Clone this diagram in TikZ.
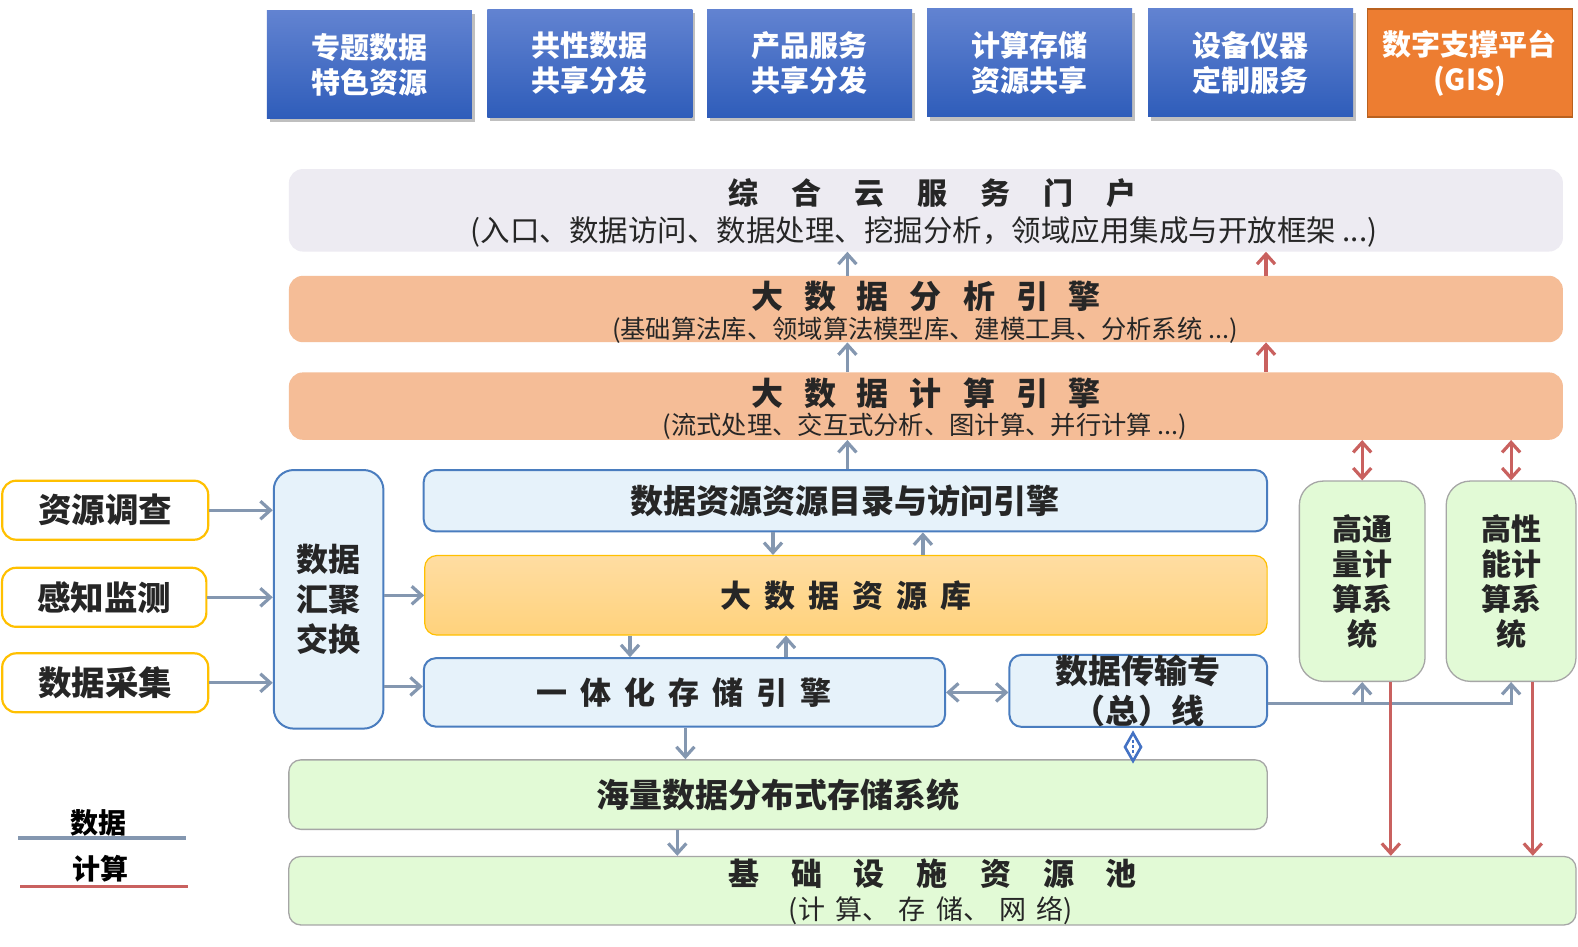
\documentclass[tikz,border=0pt]{standalone}
\usepackage{fontspec}
\setmainfont{Noto Sans CJK SC}
\usetikzlibrary{arrows.meta,shadows}
\definecolor{txt}{HTML}{262626}
\definecolor{tbTop}{HTML}{6283D1}
\definecolor{tbBot}{HTML}{2F5DBA}
\definecolor{orC}{HTML}{ED7D31}
\definecolor{orD}{HTML}{B9611F}
\definecolor{portalC}{HTML}{EDEBF2}
\definecolor{engC}{HTML}{F5BD97}
\definecolor{lbC}{HTML}{E6F2FA}
\definecolor{lbD}{HTML}{4A7DBF}
\definecolor{kbTop}{HTML}{FFDDA2}
\definecolor{kbBot}{HTML}{FFD27C}
\definecolor{kbD}{HTML}{FFC000}
\definecolor{gC}{HTML}{E2FAD6}
\definecolor{gD}{HTML}{A6A6A6}
\definecolor{yD}{HTML}{FFC000}
\definecolor{dataC}{HTML}{8497B0}
\definecolor{compC}{HTML}{C9615F}
\definecolor{dmC}{HTML}{4472C4}
\tikzset{
  topbox/.style={rectangle, inner sep=0pt, top color=tbTop, bottom color=tbBot, draw=none,
    text=white, font=\bfseries\fontsize{29}{35}\selectfont, align=center,
    drop shadow={shadow xshift=3pt,shadow yshift=-4pt,fill=black,opacity=0.25},
    minimum width=205pt, minimum height=108pt},
  gisbox/.style={rectangle, inner sep=0pt, fill=orC, draw=orD, line width=1.5pt,
    text=white, font=\bfseries\fontsize{29}{35}\selectfont, align=center,
    minimum width=205pt, minimum height=108pt},
  portalbox/.style={rectangle, rounded corners=14pt, fill=portalC, draw=none, inner sep=0pt},
  engbox/.style={rectangle, rounded corners=14pt, fill=engC, draw=none, inner sep=0pt},
  lbbox/.style={rectangle, rounded corners=12pt, fill=lbC, draw=lbD, line width=2pt, inner sep=0pt,
    text=txt, font=\bfseries\fontsize{33}{40}\selectfont, align=center},
  kbbox/.style={rectangle, rounded corners=12pt, top color=kbTop, bottom color=kbBot, draw=kbD,
    line width=1.2pt, inner sep=0pt, text=txt, font=\bfseries\fontsize{31}{38}\selectfont},
  gbox/.style={rectangle, rounded corners=12pt, fill=gC, draw=gD, line width=1.3pt, inner sep=0pt,
    text=txt, font=\bfseries\fontsize{33}{38}\selectfont, align=center},
  ybox/.style={rectangle, rounded corners=14pt, fill=white, draw=yD, line width=2.2pt, inner sep=0pt,
    text=txt, font=\bfseries\fontsize{33.5}{38}\selectfont, minimum width=206pt, minimum height=59pt},
  ttl/.style={inner sep=0pt, text=txt, font=\bfseries\fontsize{31}{36}\selectfont},
  subt/.style={inner sep=0pt, text=txt, font=\fontsize{25.3}{30}\selectfont},
  tip/.tip={Straight Barb[length=10pt,width=18pt]},
  darr/.style={draw=dataC, line width=3.2pt, -tip},
  darr2/.style={draw=dataC, line width=3.2pt, tip-tip},
  carr/.style={draw=compC, line width=3.2pt, -tip},
  carr2/.style={draw=compC, line width=3.2pt, tip-tip},
}
\begin{document}
\begin{tikzpicture}[x=1pt,y=-1pt]
\useasboundingbox (0,0) rectangle (1578,946);
\fill[white] (0,0) rectangle (1578,946);

% top row
\node[topbox] (t1) at (369.4,64.4) {专题数据\\特色资源};
\node[topbox] (t2) at (589.8,63) {共性数据\\共享分发};
\node[topbox] (t3) at (809.6,63) {产品服务\\共享分发};
\node[topbox] (t4) at (1029.5,62.5) {计算存储\\资源共享};
\node[topbox] (t5) at (1250.5,62.5) {设备仪器\\定制服务};
\node[gisbox] (t6) at (1469.8,63) {数字支撑平台\\(GIS)};

% portal
\node[portalbox, minimum width=1274pt, minimum height=82.5pt] (portal) at (925.9,210.3) {};
\node[ttl, font=\bfseries\fontsize{30}{36}\selectfont] (portalT) at (932,193) {综\hspace{33pt}合\hspace{33pt}云\hspace{33pt}服\hspace{33pt}务\hspace{33pt}门\hspace{33pt}户};
\node[subt, font=\fontsize{29.5}{34}\selectfont] (portalS) at (924,231.5) {(入口、数据访问、数据处理、挖掘分析，领域应用集成与开放框架 ...)};

% analysis engine
\node[engbox, minimum width=1274pt, minimum height=66.4pt] (an) at (925.9,309) {};
\node[ttl, font=\bfseries\fontsize{32}{36}\selectfont] (anT) at (926,296) {大\hspace{21pt}数\hspace{21pt}据\hspace{21pt}分\hspace{21pt}析\hspace{21pt}引\hspace{21pt}擎};
\node[subt] (anS) at (925,330) {(基础算法库、领域算法模型库、建模工具、分析系统 ...)};

% compute engine
\node[engbox, minimum width=1274pt, minimum height=67.4pt] (cp) at (925.9,406.1) {};
\node[ttl, font=\bfseries\fontsize{32}{36}\selectfont] (cpT) at (926,393.5) {大\hspace{21pt}数\hspace{21pt}据\hspace{21pt}计\hspace{21pt}算\hspace{21pt}引\hspace{21pt}擎};
\node[subt] (cpS) at (925,426.7) {(流式处理、交互式分析、图计算、并行计算 ...)};

% middle blocks
\node[lbbox, minimum width=843.4pt, minimum height=61.4pt] (ml) at (845.4,500.7) {数据资源资源目录与访问引擎};
\node[kbbox, minimum width=842.4pt, minimum height=79.5pt] (kb) at (845.9,595.3) {大\hspace{13pt}数\hspace{13pt}据\hspace{13pt}资\hspace{13pt}源\hspace{13pt}库};
\node[lbbox, minimum width=521.3pt, minimum height=68.4pt, font=\bfseries\fontsize{31}{38}\selectfont] (yt) at (684.4,692.4) {一\hspace{13pt}体\hspace{13pt}化\hspace{13pt}存\hspace{13pt}储\hspace{13pt}引\hspace{13pt}擎};
\node[lbbox, minimum width=257.7pt, minimum height=71.4pt] (cs) at (1138.3,690.9) {数据传输专\\（总）线};
\node[gbox, minimum width=978.3pt, minimum height=69.5pt] (hl) at (778,794.6) {海量数据分布式存储系统};
\node[gbox, minimum width=1287.2pt, minimum height=68.5pt] (jc) at (932.4,890.7) {};
\node[ttl] (jcT) at (932.5,873.5) {基\hspace{32pt}础\hspace{32pt}设\hspace{32pt}施\hspace{32pt}资\hspace{32pt}源\hspace{32pt}池};
\node[subt, font=\fontsize{27}{32}\selectfont] (jcS) at (931,910.8) {(计\hspace{10pt}算、\hspace{10pt}存\hspace{10pt}储、\hspace{10pt}网\hspace{10pt}络)};

% right systems
\node[gbox, rounded corners=24pt, minimum width=125.7pt, minimum height=200.3pt, font=\bfseries\fontsize{30}{35}\selectfont] (hq) at (1362.2,581.2) {高通\\量计\\算系\\统};
\node[gbox, rounded corners=24pt, minimum width=129.8pt, minimum height=200.3pt, font=\bfseries\fontsize{30}{35}\selectfont] (hp) at (1511.1,581.2) {高性\\能计\\算系\\统};

% left
\node[lbbox, rounded corners=20pt, minimum width=109.7pt, minimum height=258.6pt, font=\bfseries\fontsize{32}{40}\selectfont] (hj) at (328.6,599.3) {数据\\汇聚\\交换};
\node[ybox] (y1) at (105.2,510.2) {资源调查};
\node[ybox, minimum width=204.3pt] (y2) at (104.2,597.3) {感知监测};
\node[ybox] (y3) at (105.2,682.8) {数据采集};

% coordinates for connector columns
\coordinate (bx) at (847.4,0);
\coordinate (rx) at (1266,0);
\coordinate (mx1) at (773,0);
\coordinate (mx2) at (922.9,0);
\coordinate (mx3) at (630,0);
\coordinate (mx4) at (786,0);
\coordinate (mx5) at (685.4,0);
\coordinate (mx6) at (677.3,0);
\coordinate (rdx1) at (1390.8,0);
\coordinate (rdx2) at (1532.8,0);
\coordinate (busy) at (0,703.5);
\coordinate (hjy2) at (0,686.4);

% blue data arrows up
\draw[darr] (an.north -| bx) -- (portal.south -| bx);
\draw[darr] (cp.north -| bx) -- (an.south -| bx);
\draw[darr] (ml.north -| bx) -- (cp.south -| bx);
% red compute arrows up
\draw[carr] (an.north -| rx) -- (portal.south -| rx);
\draw[carr] (cp.north -| rx) -- (an.south -| rx);
% red double arrows
\draw[carr2] (cp.south -| hq.north) -- (hq.north);
\draw[carr2] (cp.south -| hp.north) -- (hp.north);

% left inputs
\draw[darr] (y1.east) -- (y1.east -| hj.west);
\draw[darr] (y2.east) -- (y2.east -| hj.west);
\draw[darr] (y3.east) -- (y3.east -| hj.west);
\draw[darr] (hj.east |- kb.west) -- (kb.west);
\draw[darr] (hj.east |- hjy2) -- (yt.west |- hjy2);

% between middle blocks
\draw[darr] (ml.south -| mx1) -- (kb.north -| mx1);
\draw[darr] (kb.north -| mx2) -- (ml.south -| mx2);
\draw[darr] (kb.south -| mx3) -- (yt.north -| mx3);
\draw[darr] (yt.north -| mx4) -- (kb.south -| mx4);
\draw[darr2] (yt.east) -- (cs.west |- yt.east);
\draw[darr] (yt.south -| mx5) -- (hl.north -| mx5);
\draw[darr] (hl.south -| mx6) -- (jc.north -| mx6);

% bus to compute systems
\draw[darr] (cs.east |- busy) -| (hp.south);
\draw[darr] (hq.south |- busy) -- (hq.south);

% compute down to infrastructure
\draw[carr] (hq.south -| rdx1) -- (jc.north -| rdx1);
\draw[carr] (hp.south -| rdx2) -- (jc.north -| rdx2);

% diamond connector between cs and hl
\coordinate (dmt) at (1133,733);
\coordinate (dmb) at (1133,761);
\draw[dmC, line width=2.6pt, line join=miter] (dmt) -- (1141,747) -- (dmb) -- (1125,747) -- cycle;
\draw[dmC, line width=2.6pt, dash pattern=on 2.5pt off 2.5pt] (1133,740) -- (1133,755);

% legend
\node[inner sep=0pt, font=\bfseries\fontsize{28}{32}\selectfont, text=black] (lgD) at (98.6,823) {数据};
\node[inner sep=0pt, font=\bfseries\fontsize{28}{32}\selectfont, text=black] (lgC) at (100.6,868.5) {计算};
\coordinate (lgD1) at (18,838);
\coordinate (lgD2) at (186,838);
\coordinate (lgC1) at (20,886.6);
\coordinate (lgC2) at (188,886.6);
\draw[dataC, line width=3.2pt] (lgD1) -- (lgD2);
\draw[compC, line width=3.2pt] (lgC1) -- (lgC2);
\end{tikzpicture}
\end{document}
